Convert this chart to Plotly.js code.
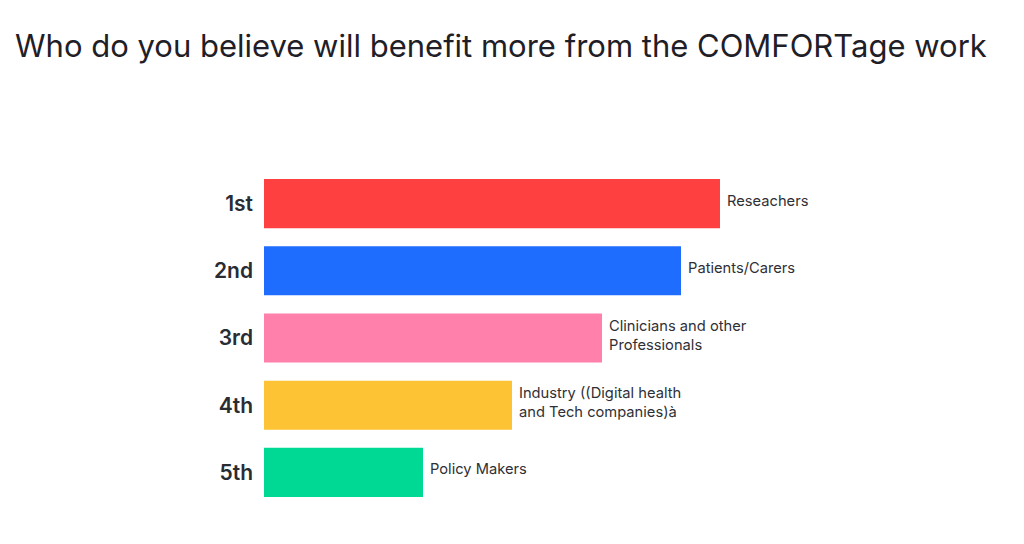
<!DOCTYPE html>
<html>
<head>
<meta charset="utf-8">
<script src="https://cdn.plot.ly/plotly-3.0.1.min.js"></script>
<style>html,body{margin:0;padding:0;background:#fff;}#chart{width:1024px;height:544px;}</style>
</head>
<body>
<div id="chart"></div>
<script>
var ranks = ["1st", "2nd", "3rd", "4th", "5th"];
var labels = ["Reseachers", "Patients/Carers", "Clinicians and other<br>Professionals", "Industry ((Digital health<br>and Tech companies)à", "Policy Makers"];
var scores = [456, 417, 338, 248, 159];
var colors = ["#ff4040", "#1f6dff", "#ff81ab", "#fec335", "#00d993"];

var trace = {
  type: "bar",
  orientation: "h",
  x: scores,
  y: ranks,
  marker: {color: colors, line: {width: 0}},
  width: 0.73,
  hoverinfo: "none"
};

var annotations = ranks.map(function (r, i) {
  return {
    x: scores[i], y: r, xref: "x", yref: "y",
    text: labels[i], showarrow: false,
    xanchor: "left", yanchor: "middle", align: "left",
    xshift: 5, yshift: 3,
    font: {family: "Inter, 'Open Sans', sans-serif", size: 14.7, color: "#2f3036"}
  };
});

var layout = {
  width: 1024, height: 544,
  paper_bgcolor: "#ffffff", plot_bgcolor: "#ffffff",
  margin: {l: 264, r: 60, t: 170, b: 38},
  title: {
    text: "Who do you believe will benefit more from the COMFORTage work",
    x: 15 / 1024, xref: "container", xanchor: "left",
    y: 0.915, yref: "container", yanchor: "middle",
    font: {family: "Inter, 'Open Sans', sans-serif", size: 31, color: "#1f2027"}
  },
  xaxis: {range: [0, 700], visible: false, fixedrange: true},
  yaxis: {
    type: "category", autorange: "reversed",
    showgrid: false, zeroline: false, showline: false, ticks: "",
    ticklabelstandoff: 10,
    tickfont: {family: "Inter, 'Open Sans', sans-serif", size: 21, weight: 600, color: "#2a2c33"}
  },
  annotations: annotations,
  showlegend: false
};

Plotly.newPlot("chart", [trace], layout, {displayModeBar: false, staticPlot: true});
</script>
</body>
</html>
